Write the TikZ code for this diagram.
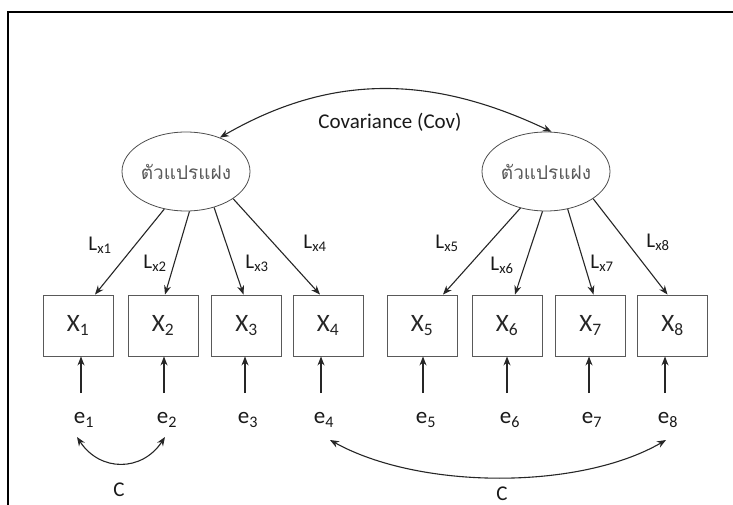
\documentclass[tikz,border=0pt]{standalone}
\usepackage{fontspec}
\setmainfont{Carlito}
\newfontfamily\thaifont[Script=Thai]{Loma}
\usetikzlibrary{shapes.geometric,arrows.meta,calc}
\begin{document}
\begin{tikzpicture}[x=1pt,y=-1pt,
  arr/.style={-{Stealth[length=9pt,width=7pt]}, line width=1.1pt, draw=black!85},
  dbl/.style={{Stealth[length=9pt,width=7pt]}-{Stealth[length=9pt,width=7pt]}, line width=1.1pt, draw=black!85},
  latent/.style={ellipse, draw=black!70, line width=0.8pt, minimum width=128pt, minimum height=79pt, inner sep=0pt, font=\thaifont\fontsize{19}{19}\selectfont, text=black!65},
  obs/.style={rectangle, draw=black!65, line width=0.9pt, minimum width=70pt, minimum height=61pt, inner sep=0pt, font=\fontsize{25}{25}\selectfont, text=black!85},
  lab/.style={font=\fontsize{21}{21}\selectfont, text=black!90, inner sep=0pt},
  errlab/.style={font=\fontsize{23}{23}\selectfont, text=black!90, inner sep=0pt},
  frame/.style={line width=2pt, draw=black},
]
\useasboundingbox (0,0) rectangle (733,505);
\draw[frame] (8,505) -- (8,12) -- (733,12);

% latent variables
\node[latent] (L) at (186,171.5) {ตัวแปรแฝง};
\node[latent] (R) at (546,171.5) {ตัวแปรแฝง};

% observed variables
\node[obs] (x1) at (78,325.5) {X\textsubscript{1}};
\node[obs] (x2) at (163,325.5) {X\textsubscript{2}};
\node[obs] (x3) at (246.5,325.5) {X\textsubscript{3}};
\node[obs] (x4) at (328,325.5) {X\textsubscript{4}};
\node[obs] (x5) at (422,325.5) {X\textsubscript{5}};
\node[obs] (x6) at (507,325.5) {X\textsubscript{6}};
\node[obs] (x7) at (590.5,325.5) {X\textsubscript{7}};
\node[obs] (x8) at (672.5,325.5) {X\textsubscript{8}};

% covariance between latents
\draw[dbl] (L.45) .. controls (330,74) and (430,74) .. (R.82);
\node[lab] (cov) at (390,122) {Covariance (Cov)};

% loadings
\draw[arr] (L.240) -- ($(x1.north)+(17,0)$);
\draw[arr] (L.275) -- ($(x2.north)+(2,0)$);
\draw[arr] (L.308) -- ($(x3.north)+(-3,0)$);
\draw[arr] (L.330) -- ($(x4.north)+(-8,0)$);
\draw[arr] (R.235) -- ($(x5.north)+(21,0)$);
\draw[arr] (R.265) -- ($(x6.north)+(8,0)$);
\draw[arr] (R.300) -- ($(x7.north)+(3,0)$);
\draw[arr] (R.330) -- ($(x8.north)+(-5,0)$);

\node[lab] (l1) at (100,245) {L\textsubscript{x1}};
\node[lab] (l2) at (155,263) {L\textsubscript{x2}};
\node[lab] (l3) at (257,263) {L\textsubscript{x3}};
\node[lab] (l4) at (315,243) {L\textsubscript{x4}};
\node[lab] (l5) at (447,243) {L\textsubscript{x5}};
\node[lab] (l6) at (502,265) {L\textsubscript{x6}};
\node[lab] (l7) at (602,263) {L\textsubscript{x7}};
\node[lab] (l8) at (658,242) {L\textsubscript{x8}};

% errors
\node[errlab] (e1) at (84,420) {e\textsubscript{1}};
\node[errlab] (e2) at (167,420) {e\textsubscript{2}};
\node[errlab] (e3) at (248,420) {e\textsubscript{3}};
\node[errlab] (e4) at (324,420) {e\textsubscript{4}};
\node[errlab] (e5) at (426,420) {e\textsubscript{5}};
\node[errlab] (e6) at (510,420) {e\textsubscript{6}};
\node[errlab] (e7) at (592,420) {e\textsubscript{7}};
\node[errlab] (e8) at (668,420) {e\textsubscript{8}};

\foreach \i/\xx in {1/81,2/164,3/245,4/321,5/423,6/507,7/589,8/665}{
  \coordinate (s\i) at (\xx,393);
  \draw[arr] (s\i) -- (s\i |- x\i.south);
}

% error covariances
\coordinate (c1a) at (77,437);
\coordinate (c1b) at (165,437);
\draw[dbl] (c1a) .. controls (100,472) and (142,472) .. (c1b);
\node[lab] (C1) at (119,490) {C};
\coordinate (c2a) at (330,440);
\coordinate (c2b) at (666,440);
\draw[dbl] (c2a) .. controls (420,490) and (580,490) .. (c2b);
\node[lab] (C2) at (502,494) {C};
\end{tikzpicture}
\end{document}
